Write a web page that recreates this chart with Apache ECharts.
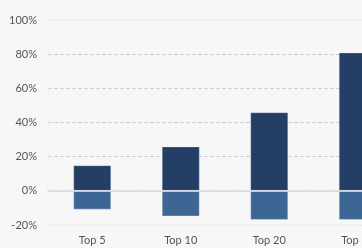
<!DOCTYPE html>
<html>
<head>
<meta charset="utf-8">
<script src="https://cdn.jsdelivr.net/npm/echarts@6/dist/echarts.min.js"></script>
<style>
  html, body { margin: 0; padding: 0; background: #f7f7f7; overflow: hidden; }
  /* chart is wider than the window: the last category is cut off on the right */
  #chart { width: 402px; height: 248px; }
</style>
</head>
<body>
<div id="chart"></div>
<script>
// categories and values (%)
const categories = ['Top 5', 'Top 10', 'Top 20', 'Top 50']
const positiveValues = [15, 26, 46, 81]
const negativeValues = [-11, -15, -17, -17]
const yTicks = [-20, 0, 20, 40, 60, 80, 100]

const chart = echarts.init(document.getElementById('chart'))

const option = {
  backgroundColor: '#f7f7f7',
  animation: false,
  textStyle: { fontFamily: 'Lato' },
  grid: {
    left: 48,
    right: 0,
    top: 20,
    bottom: 23,
    show: true,
    borderColor: '#efefef',
    borderWidth: 1
  },
  xAxis: {
    type: 'category',
    data: categories,
    z: 5,
    axisLine: { lineStyle: { color: '#d5d9df', width: 1.5 } },
    axisTick: { show: false },
    axisLabel: { color: '#555', fontSize: 11, margin: 10 }
  },
  yAxis: {
    type: 'value',
    min: yTicks[0],
    max: yTicks[yTicks.length - 1],
    interval: 20,
    axisLine: { show: false },
    axisTick: { show: false },
    axisLabel: {
      color: '#555',
      fontSize: 11,
      margin: 11,
      formatter: v => v + '%'
    },
    splitLine: {
      lineStyle: {
        type: 'dashed',
        color: ['#ebebeb', '#e6e6e6', '#d0d0d0', '#d0d0d0', '#d0d0d0', '#d0d0d0', '#ebebeb']
      }
    }
  },
  series: [
    {
      type: 'bar',
      stack: 'total',
      data: positiveValues,
      barWidth: '43%',
      itemStyle: {
        color: '#243f66',
        borderColor: 'rgba(255,255,255,0.25)',
        borderWidth: 1
      }
    },
    {
      type: 'bar',
      stack: 'total',
      data: negativeValues,
      barWidth: '43%',
      itemStyle: {
        color: '#3d6694',
        borderColor: 'rgba(255,255,255,0.3)',
        borderWidth: 1
      }
    }
  ]
}

chart.setOption(option)
</script>
</body>
</html>
